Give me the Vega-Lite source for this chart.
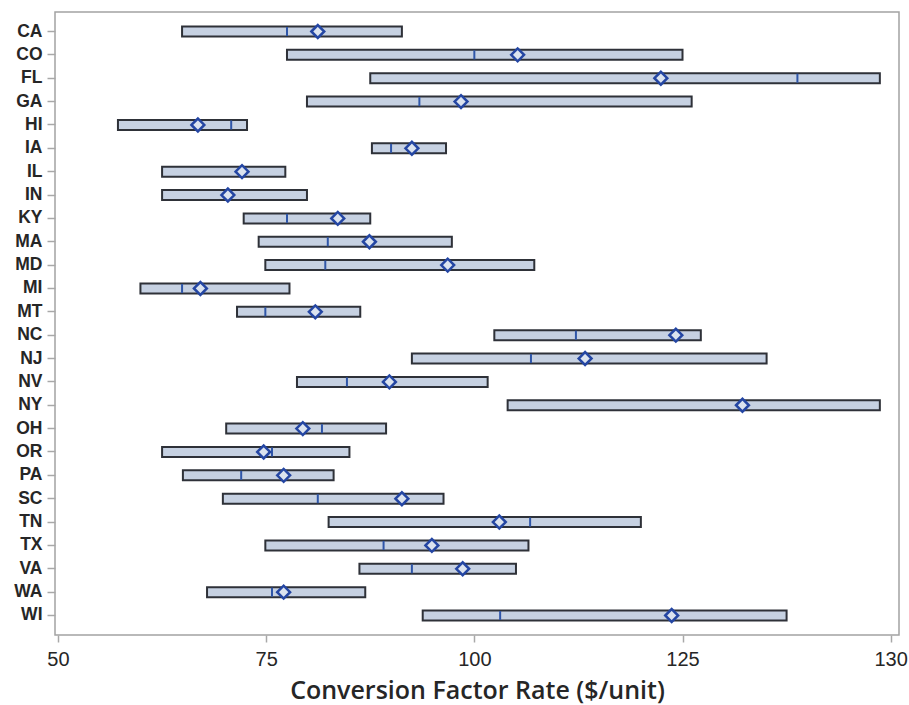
{
  "$schema": "https://vega.github.io/schema/vega-lite/v6.json",
  "width": 844,
  "height": 623,
  "autosize": {"type": "none"},
  "padding": {"left": 55, "top": 12, "right": 10, "bottom": 70},
  "background": "white",
  "config": {
    "view": {"stroke": "#a3a3a3", "strokeWidth": 1.5},
    "axis": {"domain": false, "grid": false, "tickColor": "#a8a8a8", "tickWidth": 1.5}
  },
  "data": {
    "values": [
      {"state": "CA", "low": 64.9, "median": 77.5, "mean": 81.2, "high": 91.3},
      {"state": "CO", "low": 77.5, "median": 100.0, "mean": 105.2, "high": 125.0},
      {"state": "FL", "low": 87.5, "median": 138.8, "mean": 122.4, "high": 148.7},
      {"state": "GA", "low": 79.9, "median": 93.4, "mean": 98.4, "high": 126.1},
      {"state": "HI", "low": 57.2, "median": 70.8, "mean": 66.8, "high": 72.7},
      {"state": "IA", "low": 87.7, "median": 90.0, "mean": 92.5, "high": 96.6},
      {"state": "IL", "low": 62.5, "median": 72.2, "mean": 72.1, "high": 77.3},
      {"state": "IN", "low": 62.5, "median": 70.5, "mean": 70.4, "high": 79.9},
      {"state": "KY", "low": 72.3, "median": 77.5, "mean": 83.6, "high": 87.5},
      {"state": "MA", "low": 74.1, "median": 82.4, "mean": 87.4, "high": 97.3},
      {"state": "MD", "low": 74.9, "median": 82.1, "mean": 96.8, "high": 107.2},
      {"state": "MI", "low": 59.9, "median": 64.9, "mean": 67.1, "high": 77.8},
      {"state": "MT", "low": 71.5, "median": 74.9, "mean": 80.9, "high": 86.3},
      {"state": "NC", "low": 102.4, "median": 112.2, "mean": 124.2, "high": 127.2},
      {"state": "NJ", "low": 92.5, "median": 106.8, "mean": 113.3, "high": 135.1},
      {"state": "NV", "low": 78.7, "median": 84.7, "mean": 89.8, "high": 101.6},
      {"state": "NY", "low": 104.0, "median": 132.0, "mean": 132.2, "high": 148.7},
      {"state": "OH", "low": 70.2, "median": 81.7, "mean": 79.4, "high": 89.4},
      {"state": "OR", "low": 62.5, "median": 75.7, "mean": 74.7, "high": 85.0},
      {"state": "PA", "low": 65.0, "median": 72.0, "mean": 77.1, "high": 83.1},
      {"state": "SC", "low": 69.8, "median": 81.2, "mean": 91.3, "high": 96.3},
      {"state": "TN", "low": 82.5, "median": 106.7, "mean": 103.0, "high": 120.0},
      {"state": "TX", "low": 74.9, "median": 89.1, "mean": 94.9, "high": 106.5},
      {"state": "VA", "low": 86.2, "median": 92.5, "mean": 98.6, "high": 105.0},
      {"state": "WA", "low": 67.9, "median": 75.7, "mean": 77.1, "high": 86.9},
      {"state": "WI", "low": 93.8, "median": 103.1, "mean": 123.7, "high": 137.5}
    ]
  },
  "encoding": {
    "y": {
      "field": "state",
      "type": "nominal",
      "sort": null,
      "scale": {"paddingInner": 0.572, "paddingOuter": 0.621},
      "axis": {
        "title": null,
        "tickSize": 8,
        "labelPadding": 5,
        "labelFont": "Liberation Sans",
        "labelFontWeight": "bold",
        "labelFontSize": 17.5,
        "labelColor": "#262626"
      }
    }
  },
  "layer": [
    {
      "mark": {"type": "bar", "fill": "#c6d1e2", "stroke": "#2e3138", "strokeWidth": 2},
      "encoding": {
        "x": {
          "field": "low",
          "type": "quantitative",
          "scale": {"domain": [49.64, 151.0], "nice": false, "zero": false},
          "axis": {
            "values": [50, 75, 100, 125, 150],
            "labelExpr": "datum.value == 150 ? '130' : datum.label",
            "tickSize": 7,
            "labelPadding": 7,
            "labelFont": "Liberation Sans",
            "labelFontSize": 20,
            "labelColor": "#262626",
            "title": "Conversion Factor Rate ($/unit)",
            "titleFont": "Open Sans",
            "titleFontWeight": 600,
            "titleFontSize": 25,
            "titleColor": "#262626",
            "titlePadding": 9
          }
        },
        "x2": {"field": "high"}
      }
    },
    {
      "mark": {"type": "tick", "color": "#2f56a8", "thickness": 2, "size": 9, "opacity": 1},
      "encoding": {
        "x": {"field": "median", "type": "quantitative"}
      }
    },
    {
      "mark": {"type": "point", "shape": "diamond", "size": 165, "filled": false, "fill": "#dbe3ef", "fillOpacity": 1, "stroke": "#2446a3", "strokeWidth": 2.5, "opacity": 1},
      "encoding": {
        "x": {"field": "mean", "type": "quantitative"}
      }
    }
  ]
}
